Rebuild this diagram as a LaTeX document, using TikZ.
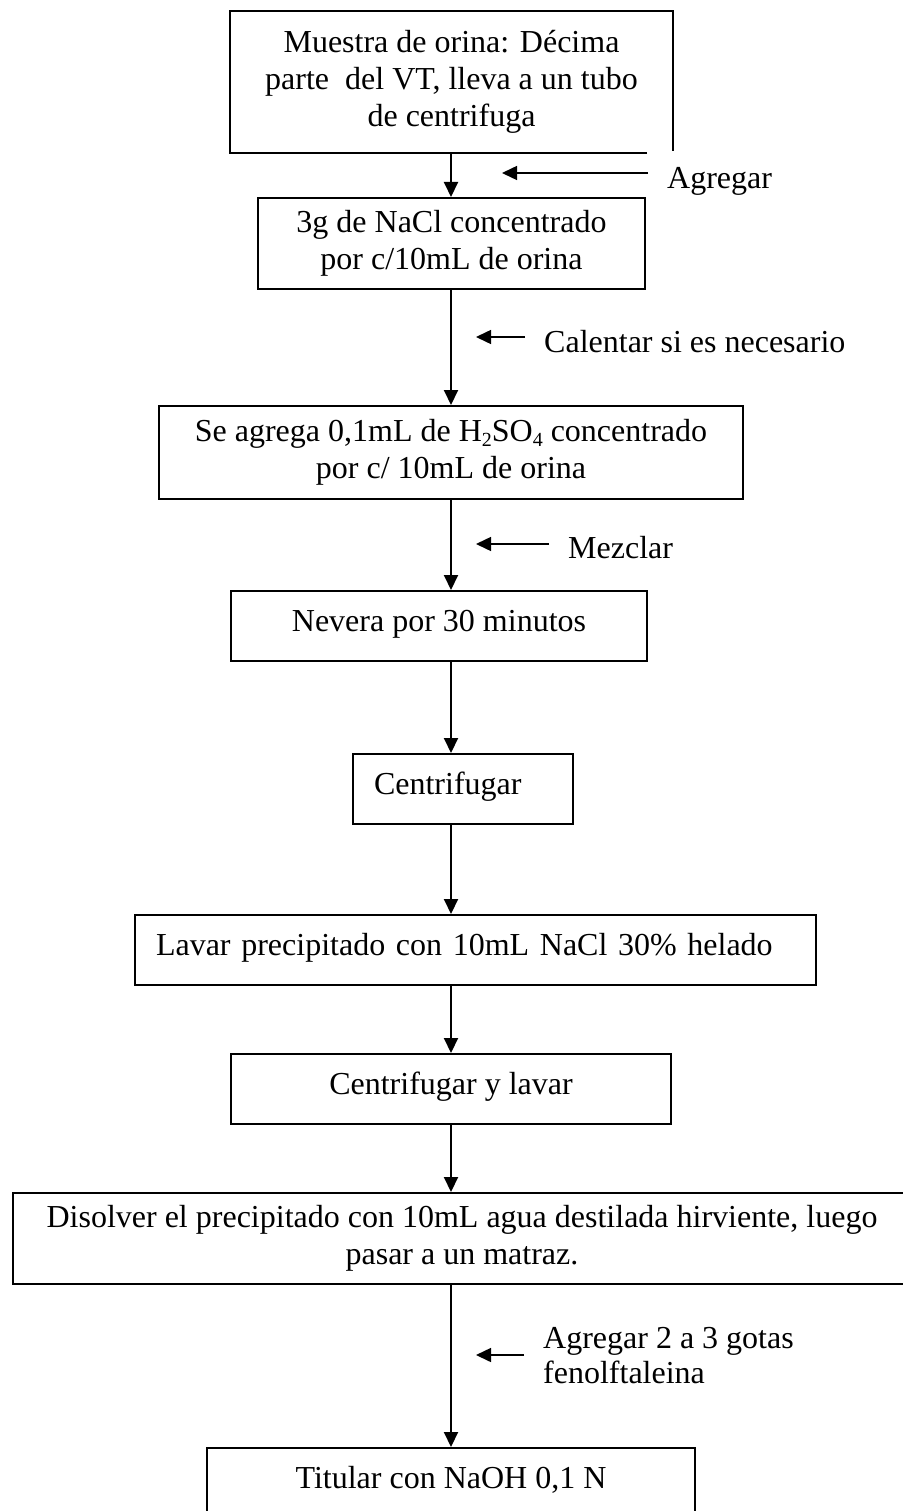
\documentclass[tikz,border=0pt]{standalone}
\usepackage{fontspec}
\setmainfont{Liberation Serif}
\usepackage{tikz}
\usetikzlibrary{calc}
\usetikzlibrary{arrows.meta}

\newcommand{\subi}[1]{\raisebox{-5pt}{\fontsize{20}{20}\selectfont #1}}

\begin{document}
\begin{tikzpicture}[x=1pt, y=-1pt,
	caja/.style={draw, line width=2pt, align=center, font=\fontsize{32}{37}\selectfont},
	linea/.style={caja, anchor=north, text height=22pt, text depth=12pt, inner ysep=18pt},
	nota/.style={inner sep=0pt, align=left, font=\fontsize{32}{35}\selectfont},
	flecha/.style={line width=2pt, -{Triangle[length=15pt, width=14pt]}},
	lateral/.style={line width=1.5pt, -{Triangle[length=15pt, width=14pt]}}]

	\useasboundingbox (0,0) rectangle (902,1511);
	\coordinate (eje) at (451,0);

	\node[caja, draw=none, minimum width=441pt, minimum height=140pt] (muestra) at (451.5,82) {Muestra de orina: Décima\\parte~ del VT, lleva a un tubo\\de centrifuga};
	\draw[line width=2pt] ($(muestra.south east)+(-26,0)$) -- (muestra.south west) -- (muestra.north west) -- (muestra.north east) -- ($(muestra.south east)+(0,-2)$);

	\node[caja, minimum width=387pt, minimum height=91pt] (nacl) at (451.5,243.5) {3g de NaCl concentrado\\por c/10mL de orina};
	\node[caja, minimum width=584pt, minimum height=93pt] (acido) at (451,452.5) {Se agrega 0,1mL de H\subi{2}SO\subi{4} concentrado\\por c/ 10mL de orina};
	\node[linea, minimum width=416pt] (nevera) at (439,590) {Nevera por 30 minutos};
	\node[linea, inner xsep=21pt, text width=178pt, align=left] (centri) at (463,753) {Centrifugar};
	\node[linea, inner xsep=21pt, text width=639pt, align=left] (lavar) at (475.5,914) {Lavar precipitado con 10mL NaCl 30\% helado};
	\node[linea, minimum width=440pt] (centrilavar) at (451,1053) {Centrifugar y lavar};
	\node[caja, minimum width=898pt, minimum height=91pt] (disolver) at (462,1238.5) {Disolver el precipitado con 10mL agua destilada hirviente, luego\\pasar a un matraz.};
	\node[linea, minimum width=488pt, text depth=60pt] (titular) at (451,1447) {Titular con NaOH 0,1 N};

	\foreach \a/\b in {muestra/nacl, nacl/acido, acido/nevera, nevera/centri, centri/lavar, lavar/centrilavar, centrilavar/disolver, disolver/titular}
		\draw[flecha] (\a.south -| eje) -- (\b.north -| eje);

	% lo que se agrega en cada paso
	\node[nota, anchor=base west] (agregar) at (667,189) {Agregar};
	\node[nota, anchor=base west] (calentar) at (544,352) {Calentar si es necesario};
	\node[nota, anchor=base west] (mezclar) at (568,558) {Mezclar};
	\node[nota, anchor=west] (gotas) at (543,1356) {Agregar 2 a 3 gotas\\fenolftaleina};

	\coordinate (p1) at (502,173);
	\coordinate (p2) at (476,337);
	\coordinate (p3) at (476,544);
	\coordinate (p4) at (476,1355);
	\foreach \n/\p in {agregar/p1, calentar/p2, mezclar/p3, gotas/p4}
		\draw[lateral] ($(\n.west |- \p)+(-19,0)$) -- (\p);
\end{tikzpicture}
\end{document}
